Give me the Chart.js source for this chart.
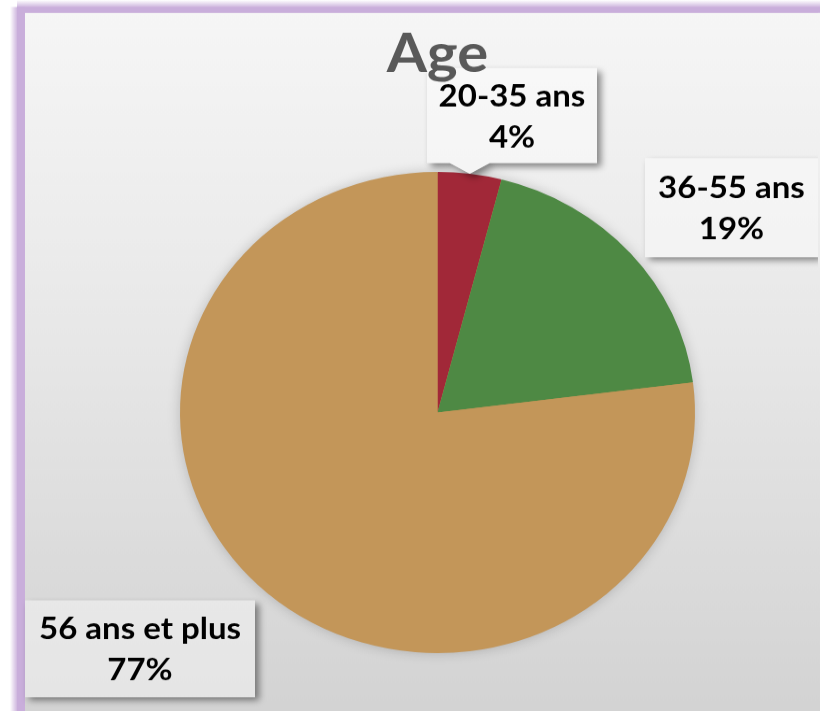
<!DOCTYPE html>
<html><head><meta charset="utf-8">
<script src="https://cdn.jsdelivr.net/npm/chart.js@4"></script>
<style>html,body{margin:0;padding:0;overflow:hidden;background:#ffffff}
canvas{display:block}</style></head>
<body><canvas id="c" width="820" height="761" style="width:820px;height:711px"></canvas>
<script>
const TITLE = 'Age';
const CATEGORIES = ['20-35 ans', '36-55 ans', '56 ans et plus'];
const PERCENTS = [4, 19, 77];
const SLICE_COLORS = ['#a12838', '#4e8944', '#c39659'];

// label callout boxes, in page pixels
const LABEL_BOXES = [
  { x: 427, y: 68, w: 170, h: 95, pointer: true },
  { x: 645, y: 158, w: 173, h: 99, pointer: false },
  { x: 25, y: 600, w: 230, h: 97, pointer: false }
];

const SY = 240.5 / 257.5;           // vertical squash of the original picture
const W = 820, H = Math.round(711 / SY);

const framePlugin = {
  id: 'frame',
  beforeDraw(chart) {
    const ctx = chart.ctx;
    ctx.save();
    const g = ctx.createLinearGradient(0, 13 / SY, 0, H);
    g.addColorStop(0, '#f6f6f6');
    g.addColorStop(0.45, '#e8e8e8');
    g.addColorStop(1, '#d3d3d3');
    chart.$bg = g;
    ctx.fillStyle = '#ffffff';
    ctx.fillRect(0, 0, W, H);
    const PURPLE = '#c9aedb';
    const gl = ctx.createLinearGradient(10, 0, 18, 0);
    gl.addColorStop(0, 'rgba(201,174,219,0)');
    gl.addColorStop(1, PURPLE);
    ctx.fillStyle = gl;
    ctx.fillRect(10, 7 / SY, 8, H);
    const gt = ctx.createLinearGradient(0, 0, 0, 8 / SY);
    gt.addColorStop(0, 'rgba(201,174,219,0)');
    gt.addColorStop(1, PURPLE);
    ctx.fillStyle = gt;
    ctx.fillRect(17, 0, W, 8 / SY);
    ctx.fillStyle = PURPLE;
    ctx.fillRect(17, 7 / SY, 8, H);
    ctx.fillRect(17, 7 / SY, W, 6 / SY);
    ctx.fillStyle = g;
    ctx.fillRect(25, 13 / SY, W, H);
    ctx.restore();
  },
  beforeDatasetsDraw(chart) {
    const ctx = chart.ctx;
    const a = chart.getDatasetMeta(0).data[0];
    if (!a) return;
    ctx.save();
    ctx.shadowColor = 'rgba(0,0,0,0.22)';
    ctx.shadowBlur = 14;
    ctx.fillStyle = SLICE_COLORS[2];
    ctx.beginPath();
    ctx.arc(a.x, a.y, a.outerRadius - 1, 0, Math.PI * 2);
    ctx.fill();
    ctx.restore();
  },
  afterDraw(chart) {
    const ctx = chart.ctx;
    const arcs = chart.getDatasetMeta(0).data;
    ctx.save();
    LABEL_BOXES.forEach((b, i) => {
      const x = b.x, y = b.y / SY, w = b.w, h = b.h / SY;
      ctx.beginPath();
      ctx.moveTo(x, y);
      ctx.lineTo(x + w, y);
      ctx.lineTo(x + w, y + h);
      if (b.pointer && arcs[i]) {
        const a = arcs[i];
        const mid = (a.startAngle + a.endAngle) / 2;
        const tx = a.x + a.outerRadius * Math.cos(mid);
        const ty = a.y + a.outerRadius * Math.sin(mid);
        ctx.lineTo(tx + 20, y + h);
        ctx.lineTo(tx, ty);
        ctx.lineTo(tx - 20, y + h);
      }
      ctx.lineTo(x, y + h);
      ctx.closePath();
      ctx.shadowColor = 'rgba(0,0,0,0.45)';
      ctx.shadowBlur = 7;
      ctx.shadowOffsetX = 4;
      ctx.shadowOffsetY = 4;
      ctx.fillStyle = chart.$bg;
      ctx.fill();
      ctx.shadowColor = 'rgba(0,0,0,0)';
      ctx.shadowBlur = 0;
      ctx.shadowOffsetX = 0;
      ctx.shadowOffsetY = 0;
      ctx.fillStyle = 'rgba(255,255,255,0.4)';
      ctx.fill();
      const cx = x + w / 2, cy = y + h / 2;
      ctx.fillStyle = '#000000';
      ctx.font = 'bold 33px Lato';
      ctx.textAlign = 'center';
      ctx.textBaseline = 'alphabetic';
      ctx.fillText(CATEGORIES[i], cx, cy - 10);
      ctx.fillText(PERCENTS[i] + '%', cx, cy + 34);
    });
    // keep the right and bottom edges plain background
    ctx.fillStyle = chart.$bg;
    ctx.fillRect(W - 2, 13 / SY, 2, H);
    ctx.fillRect(25, H - 2, W, 2);
    // title
    const a0 = arcs[0];
    ctx.fillStyle = '#595959';
    ctx.font = 'bold 58px Lato';
    ctx.textAlign = 'center';
    ctx.textBaseline = 'alphabetic';
    ctx.fillText(TITLE, a0 ? a0.x : W / 2, 72 / SY);
    ctx.restore();
  }
};

function make() {
  new Chart(document.getElementById('c'), {
    type: 'pie',
    data: {
      labels: CATEGORIES,
      datasets: [{ data: PERCENTS, backgroundColor: SLICE_COLORS, borderWidth: 0 }]
    },
    options: {
      responsive: false,
      devicePixelRatio: 1,
      animation: false,
      layout: { padding: { left: 180, right: 125, top: 184, bottom: H - 184 - 515 } },
      plugins: {
        legend: { display: false },
        tooltip: { enabled: false },
        title: { display: false, text: TITLE }
      }
    },
    plugins: [framePlugin]
  });
}
let done = false;
function go() { if (!done) { done = true; make(); } }
if (document.fonts && document.fonts.load) {
  Promise.all([document.fonts.load('bold 33px Lato'), document.fonts.load('bold 58px Lato')]).then(go, go);
  setTimeout(go, 1500);
} else { go(); }
</script>
</body></html>
